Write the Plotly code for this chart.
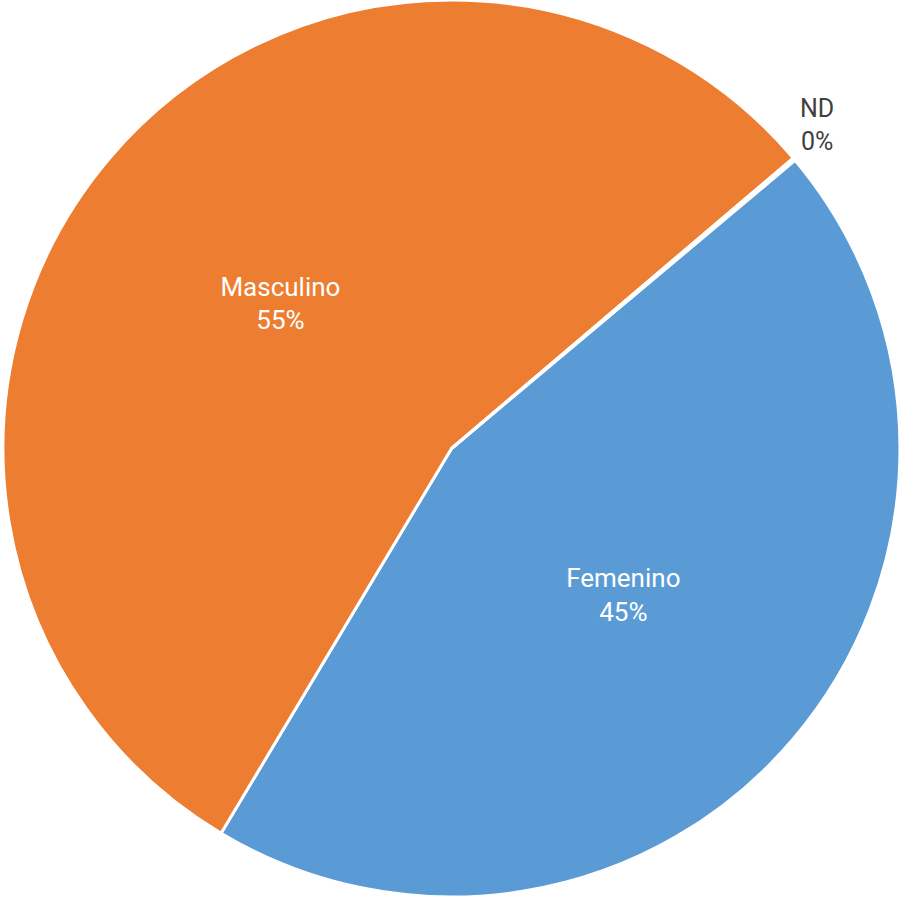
import plotly.graph_objects as go

labels = ["Femenino", "Masculino", "ND"]
values = [44.7, 55.2, 0.1]
colors = ["#5B9BD5", "#ED7D31", "#A5A5A5"]

total = sum(values)
pcts = [v / total for v in values]

fig = go.Figure(go.Pie(
    labels=labels,
    values=values,
    sort=False,
    direction="clockwise",
    rotation=50,
    marker=dict(colors=colors, line=dict(color="white", width=3)),
    texttemplate=["%{label}<br>%{percent:.0%}", "%{label}<br>%{percent:.0%}", ""],
    textposition="inside",
    insidetextfont=dict(color="white", size=26, family="Roboto"),
    insidetextorientation="horizontal",
    showlegend=False,
    hoverinfo="skip",
))
fig.add_annotation(
    x=817 / 903, y=1 - 125 / 897, xref="paper", yref="paper",
    xanchor="center", yanchor="middle",
    text=f"{labels[2]}<br>{pcts[2]:.0%}",
    showarrow=False,
    font=dict(color="#404040", size=25, family="Roboto"),
    align="center",
)
fig.update_layout(
    width=903, height=897,
    margin=dict(l=0, r=0, t=0, b=0),
    paper_bgcolor="white",
    font=dict(family="Roboto"),
)
fig.write_html(
    "out.html",
    config={"displayModeBar": False},
    post_script="document.body.style.margin='0';document.body.style.overflow='hidden';",
)
